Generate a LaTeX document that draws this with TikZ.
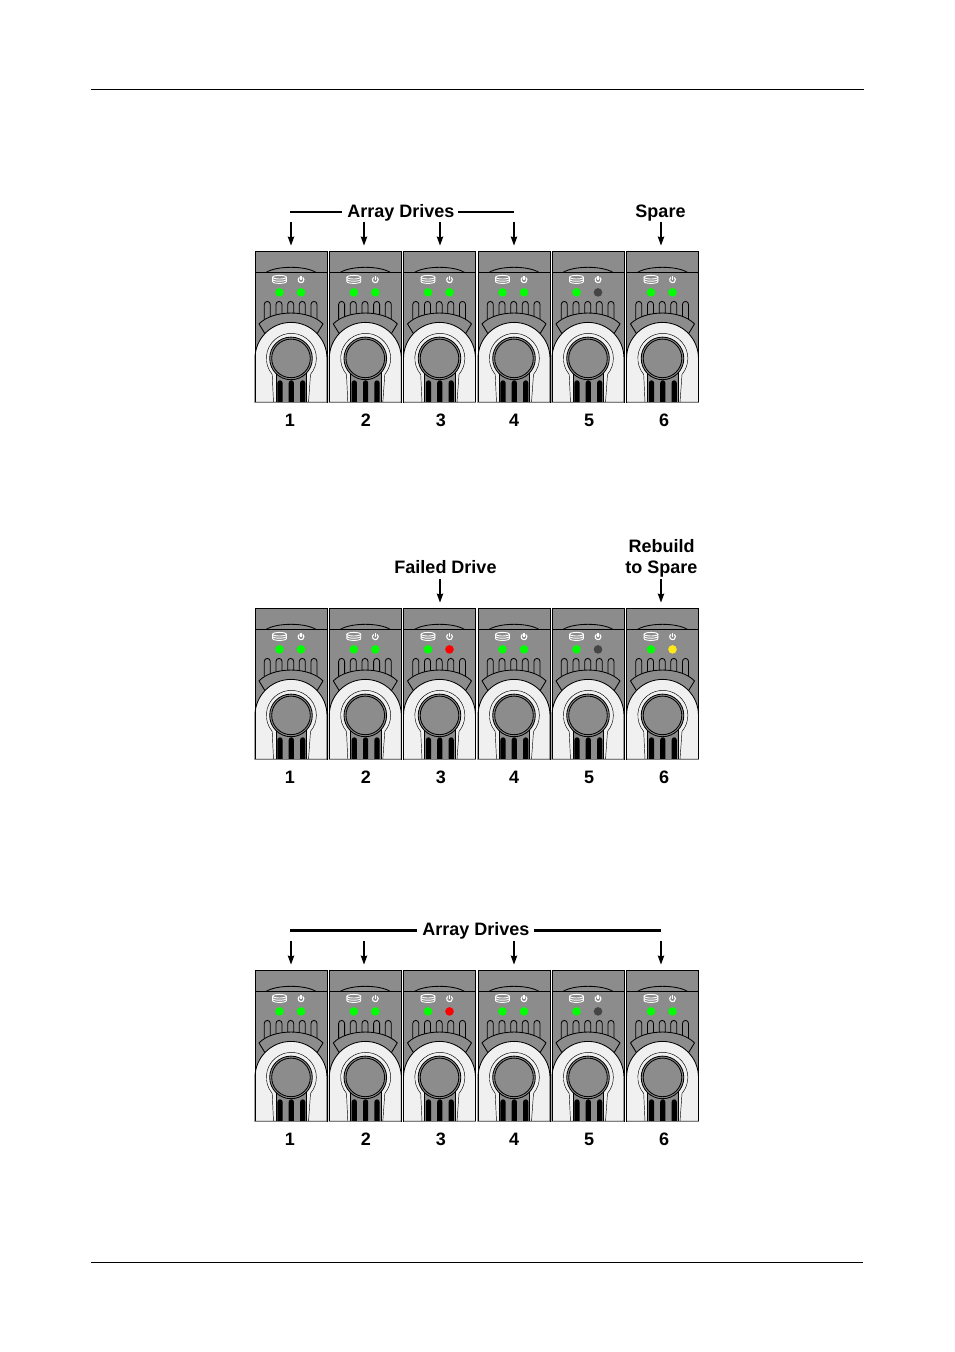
\documentclass[tikz,border=0pt]{standalone}
\usepackage{fontspec}
\setmainfont{Liberation Sans}
\usetikzlibrary{arrows.meta}
\definecolor{body}{HTML}{8C8C8C}
\definecolor{pale}{HTML}{F0F0F0}
\definecolor{ledon}{HTML}{00FF00}
\definecolor{ledoff}{HTML}{454545}
\definecolor{ledred}{HTML}{FF0000}
\definecolor{ledyel}{HTML}{FFE81A}
\tikzset{
  drivebox/.style={fill=body,draw=none,inner sep=0pt,outer sep=0pt,minimum width=72pt,minimum height=151pt,anchor=north west},
  edgeline/.style={black,line width=0.85pt},
  thinline/.style={black,line width=0.45pt},
  iconline/.style={white,line width=0.9pt},
  lab/.style={font=\bfseries\fontsize{18}{21}\selectfont,inner sep=0pt,align=center},
  pointer/.style={black,line width=1.1pt,-{Stealth[length=9pt,width=6.5pt,inset=1pt]}},
  bracket/.style={black,line width=1.1pt},
  rulerline/.style={black,line width=0.7pt}
}
% name, x, y, colour of left-hand and right-hand LED
\newcommand{\driveunit}[5]{%
  \node[drivebox] (#1) at (#2,-#3) {};
  \begin{scope}[shift={(#2,-#3)}]
    % fins
    \foreach \fx in {12.3,24,35.7,47.3,59}
      \draw[edgeline] (\fx-3,-68) -- (\fx-3,-53) arc (180:0:3) -- (\fx+3,-68);
    % band
    \draw[edgeline,fill=body] (4,-72.5) .. controls (18,-58) and (54,-58) .. (68,-72.5) -- (61,-84) -- (11,-84) -- cycle;
    % handle
    \draw[edgeline,fill=pale] (0,-151) -- (0,-107) arc (180:0:36) -- (72,-151) -- cycle;
    % keyhole
    \draw[thinline] (18.5,-151) -- (17.2,-123) arc (220:-40:25) -- (53.5,-151);
    \draw[thinline,fill=body] (21,-151) -- (21,-120) -- (51.5,-120) -- (51.5,-151) -- cycle;
    % knob
    \draw[edgeline,fill=body] (36,-107) circle (21.3);
    \draw[edgeline,fill=body] (36,-107) circle (19.3);
    % slots
    \foreach \sx in {25,36.3,47.7}
      \fill[black] (\sx-2.6,-151) -- (\sx-2.6,-131.5) arc (180:0:2.6) -- (\sx+2.6,-151) -- cycle;
    % top cap
    \draw[edgeline] (0,-21) -- (72,-21);
    \draw[edgeline] (11,-21) .. controls (22,-14.2) and (50,-14.2) .. (61,-21);
    % disk icon
    \draw[iconline] (17.6,-25.8) -- (17.6,-30.2) arc (180:360:6.9 and 1.8) -- (31.4,-25.8);
    \draw[iconline] (17.6,-28) arc (180:360:6.9 and 1.8);
    \draw[iconline] (24.5,-25.8) ellipse (6.9 and 1.8);
    % power icon
    \draw[iconline,line width=1.1pt] (44.4,-26) arc (125:415:2.9);
    \draw[iconline,line width=1.1pt] (46,-24.4) -- (46,-28.2);
    % LEDs
    \fill[#4] (24.5,-41) circle (4.3);
    \fill[#5] (46,-41) circle (4.3);
    % outline
    \draw[edgeline,line cap=rect] (0,-151) -- (0,0) -- (72,0) -- (72,-151);
    \draw[gray,line width=1pt] (0,-151) -- (72,-151);
  \end{scope}%
}
% prefix, y, LED of unit 3, LED of unit 6, y of the numbers
\newcommand{\driverow}[5]{%
  \driveunit{#1a}{255}{#2}{ledon}{ledon}
  \driveunit{#1b}{329.3}{#2}{ledon}{ledon}
  \driveunit{#1c}{403.5}{#2}{ledon}{#3}
  \driveunit{#1d}{478}{#2}{ledon}{ledon}
  \driveunit{#1e}{552}{#2}{ledon}{ledoff}
  \driveunit{#1f}{626.5}{#2}{ledon}{#4}
  \node[lab] (#1n1) at (290,-#5) {1};
  \node[lab] (#1n2) at (366,-#5) {2};
  \node[lab] (#1n3) at (441,-#5) {3};
  \node[lab] (#1n4) at (514,-#5) {4};
  \node[lab] (#1n5) at (589,-#5) {5};
  \node[lab] (#1n6) at (664,-#5) {6};
}
\begin{document}
\begin{tikzpicture}[x=1pt,y=1pt]
\useasboundingbox (0,0) rectangle (954,-1352);
\fill[white] (0,0) rectangle (954,-1352);
% page rules
\coordinate (tl) at (91,-89.5); \coordinate (tr) at (863.5,-89.5);
\coordinate (bl) at (91,-1262); \coordinate (br) at (863,-1262);
\draw[rulerline] (tl) -- (tr);
\draw[rulerline] (bl) -- (br);

% ---- row 1
\driverow{p}{251.4}{ledon}{ledon}{420}
\node[lab] (arr1) at (401,-212.7) {Array Drives};
\node[lab] (spare) at (660.5,-212.7) {Spare};
\coordinate (l1a) at (290,-212); \coordinate (l1b) at (342,-212);
\coordinate (l1c) at (458,-212); \coordinate (l1d) at (514,-212);
\draw[bracket] (l1a) -- (l1b);
\draw[bracket] (l1c) -- (l1d);
\foreach \ax/\tgt in {291/pa,364/pb,440/pc,514/pd,661/pf}{
  \coordinate (s\tgt) at (\ax,-222);
  \coordinate (e\tgt) at (\ax,-245.5);
  \draw[pointer] (s\tgt) -- (e\tgt);
}

% ---- row 2
\driverow{q}{608.4}{ledred}{ledyel}{777}
\node[lab] (fail) at (445.5,-567) {Failed Drive};
\node[lab] (reb) at (661.5,-558.3) {Rebuild\\to Spare};
\foreach \ax/\tgt in {440/qc,661/qf}{
  \coordinate (s\tgt) at (\ax,-579);
  \coordinate (e\tgt) at (\ax,-602.5);
  \draw[pointer] (s\tgt) -- (e\tgt);
}

% ---- row 3
\driverow{r}{970.4}{ledred}{ledon}{1139}
\node[lab] (arr3) at (476,-930.7) {Array Drives};
\coordinate (l3a) at (290,-930.5); \coordinate (l3b) at (417,-930.5);
\coordinate (l3c) at (534,-930.5); \coordinate (l3d) at (661,-930.5);
\draw[bracket,line width=2.2pt] (l3a) -- (l3b);
\draw[bracket,line width=2.2pt] (l3c) -- (l3d);
\foreach \ax/\tgt in {291/ra,364/rb,514/rd,661/rf}{
  \coordinate (s\tgt) at (\ax,-941);
  \coordinate (e\tgt) at (\ax,-964.5);
  \draw[pointer] (s\tgt) -- (e\tgt);
}
\end{tikzpicture}
\end{document}
